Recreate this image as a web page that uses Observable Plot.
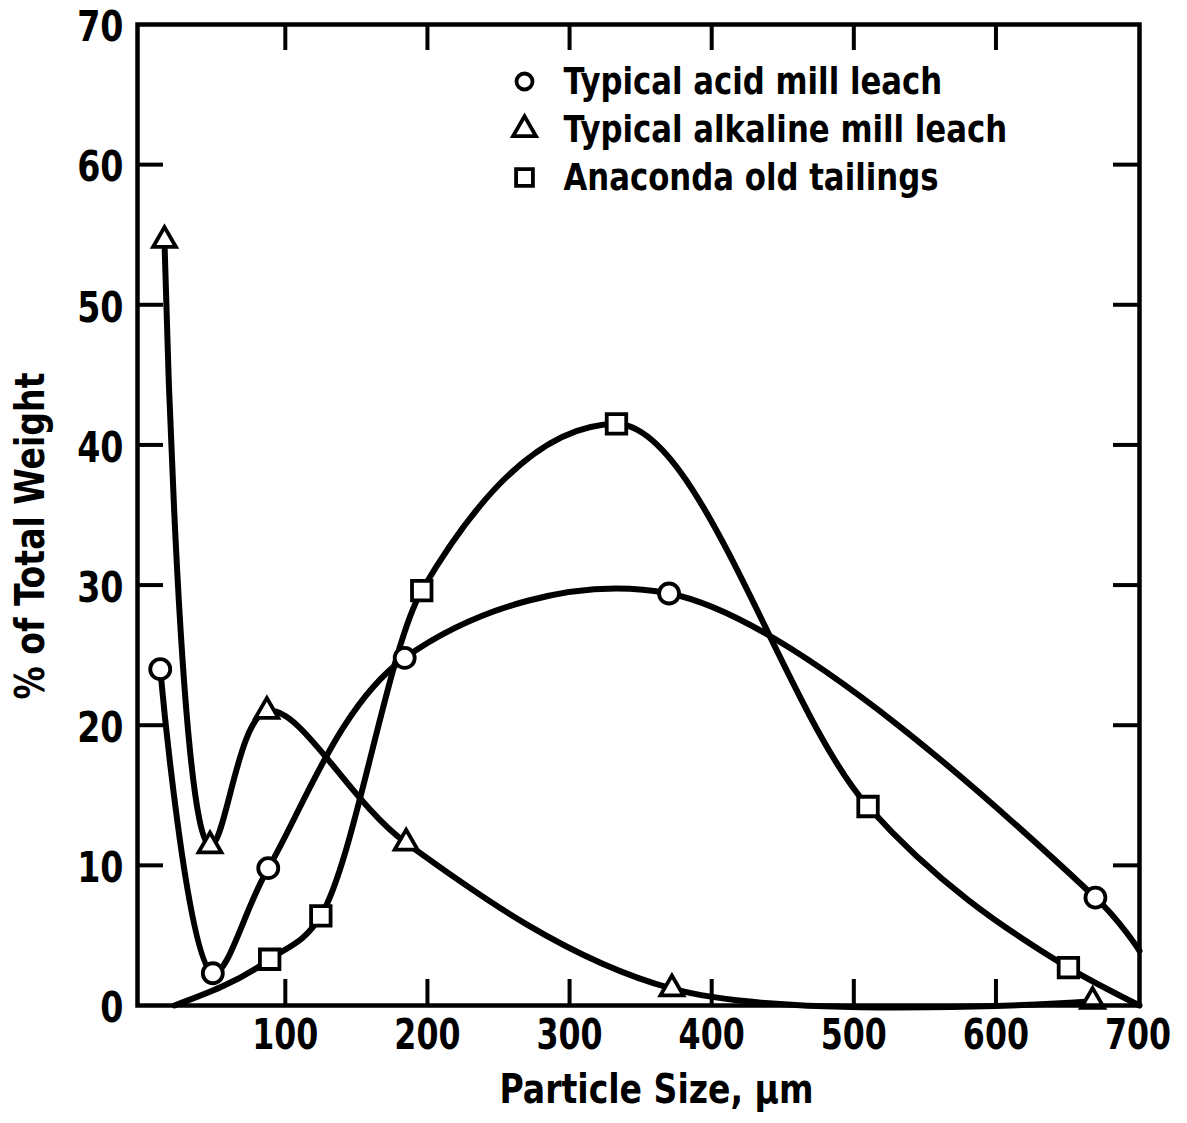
<!DOCTYPE html>
<html>
<head>
<meta charset="utf-8">
<script src="https://cdn.jsdelivr.net/npm/d3@7"></script>
<script src="https://cdn.jsdelivr.net/npm/@observablehq/plot@0.6"></script>
<style>
  html, body { margin: 0; padding: 0; background: #fff; }
  #chart svg { display: block; }
</style>
</head>
<body>
<div id="chart"></div>
<script>
// Particle size distributions of uranium mill tailings (% of total weight vs size, µm)

// Typical acid mill leach (circles)
const acidSize   = [12, 49, 88, 184, 370, 670];
const acidWeight = [24.0, 2.3, 9.8, 24.8, 29.4, 7.7];
// where the drawn acid curve leaves the right edge
const acidTailSize   = [701];
const acidTailWeight = [3.9];

// Typical alkaline mill leach (triangles)
const alkSize   = [15, 47, 87, 185, 372, 668];
const alkWeight = [54.6, 11.4, 21.0, 11.6, 1.2, 0.3];

// Anaconda old tailings (squares)
const anaSize   = [89, 125, 196, 333, 510, 651];
const anaWeight = [3.3, 6.4, 29.6, 41.5, 14.2, 2.7];
// where the drawn tailings curve meets the axis at either end
const anaHeadSize = [22],  anaHeadWeight = [0];
const anaTailSize = [701], anaTailWeight = [0];

// Axis ticks
const xTickLabels = [100, 200, 300, 400, 500, 600, 700];
const xInnerTicks = [100, 200, 300, 400, 500, 600];
const yTickLabels = [0, 10, 20, 30, 40, 50, 60, 70];
const yInnerTicks = [10, 20, 30, 40, 50, 60];

// Legend
const legendLabels  = ["Typical acid mill leach", "Typical alkaline mill leach", "Anaconda old tailings"];
const legendSymbols = ["circle", "triangle", "square"];

const toRows = (xs, ys) => xs.map((x, i) => ({size: x, weight: ys[i]}));
const acidPts = toRows(acidSize, acidWeight);
const alkPts  = toRows(alkSize, alkWeight);
const anaPts  = toRows(anaSize, anaWeight);
const acidCurve = [...acidPts, ...toRows(acidTailSize, acidTailWeight)];
const alkCurve  = alkPts;
const anaCurve  = [...toRows(anaHeadSize, anaHeadWeight), ...anaPts, ...toRows(anaTailSize, anaTailWeight)];

const W = 1187, H = 1123;
const mL = 137, mR = 48, mT = 24, mB = 118;
const innerW = W - mL - mR, innerH = H - mT - mB;
const tickLen = 26;
const font = "'DejaVu Sans Condensed', 'DejaVu Sans', sans-serif";

const lineStyle = {x: "size", y: "weight", stroke: "black", strokeWidth: 6, strokeLinejoin: "round", strokeLinecap: "round"};
const dotStyle = {x: "size", y: "weight", fill: "white", stroke: "black", strokeWidth: 3.8};

const legendRadius = {circle: 8, triangle: 8.5, square: 9.5};
const legendMarks = [];
legendLabels.forEach((label, i) => {
  legendMarks.push(Plot.dot([label], {
    frameAnchor: "top-left", dx: 387, dy: 57 + i * 48,
    symbol: legendSymbols[i], r: legendRadius[legendSymbols[i]],
    fill: "white", stroke: "black", strokeWidth: 3.8
  }));
  legendMarks.push(Plot.text([label], {
    frameAnchor: "top-left", dx: 426, dy: 57 + i * 48,
    text: d => d, textAnchor: "start", lineAnchor: "middle",
    fontSize: 38, fontWeight: "bold", fill: "black", className: "legend-label"
  }));
});

const chart = Plot.plot({
  width: W,
  height: H,
  marginLeft: mL, marginRight: mR, marginTop: mT, marginBottom: mB,
  style: {fontFamily: font, fontWeight: "bold", color: "black", background: "white"},
  x: {domain: [-4, 701], label: null},
  y: {domain: [0, 70], label: null},
  marks: [
    // smooth hand-drawn curves
    Plot.line(acidCurve, {...lineStyle, curve: "catmull-rom"}),
    Plot.line(alkCurve,  {...lineStyle, curve: "catmull-rom"}),
    Plot.line(anaCurve,  {...lineStyle, curve: "monotone-x"}),
    // data markers
    Plot.dot(acidPts, {...dotStyle, symbol: "circle", r: 10}),
    Plot.dot(alkPts,  {...dotStyle, symbol: "triangle", r: 8.5}),
    Plot.dot(anaPts,  {...dotStyle, symbol: "square", r: 11}),
    // inward ticks on all four sides
    Plot.ruleX(xInnerTicks, {x: d => d, insetTop: innerH - tickLen, strokeWidth: 4}),
    Plot.ruleX(xInnerTicks, {x: d => d, insetBottom: innerH - tickLen, strokeWidth: 4}),
    Plot.ruleY(yInnerTicks, {y: d => d, insetRight: innerW - tickLen, strokeWidth: 4}),
    Plot.ruleY(yInnerTicks, {y: d => d, insetLeft: innerW - tickLen, strokeWidth: 4}),
    Plot.frame({stroke: "black", strokeWidth: 4.5}),
    // tick labels
    Plot.axisX(xTickLabels, {anchor: "bottom", tickSize: 0, tickPadding: 13, fontSize: 43, label: null, className: "xtick-label"}),
    Plot.axisY(yTickLabels, {anchor: "left", tickSize: 0, tickPadding: 14, dy: 3, fontSize: 43, label: null, className: "ytick-label"}),
    // axis titles
    Plot.text(["Particle Size, \u03bcm"], {
      frameAnchor: "bottom", dx: 18, dy: 85, text: d => d, textAnchor: "middle",
      fontSize: 40, fontWeight: "bold", lineAnchor: "middle", className: "axis-title"
    }),
    Plot.text(["% of Total Weight"], {
      frameAnchor: "left", dx: -106, dy: 21, rotate: -90, text: d => d, textAnchor: "middle",
      fontSize: 40, fontWeight: "bold", lineAnchor: "middle", className: "axis-title"
    }),
    ...legendMarks
  ]
});

document.getElementById("chart").appendChild(chart);

// narrow, lettering-guide style: condense each label horizontally
function condense(selector, factor) {
  chart.querySelectorAll(selector).forEach(t => {
    const len = t.getComputedTextLength();
    if (len > 0) {
      t.setAttribute("textLength", (len * factor).toFixed(1));
      t.setAttribute("lengthAdjust", "spacingAndGlyphs");
    }
  });
}
condense("g[class*='xtick-label'] text", 0.82);
condense("g[class*='ytick-label'] text", 0.86);
condense("g[class*='axis-title'] text", 0.92);
condense("g[class*='legend-label'] text", 0.9);
</script>
</body>
</html>
